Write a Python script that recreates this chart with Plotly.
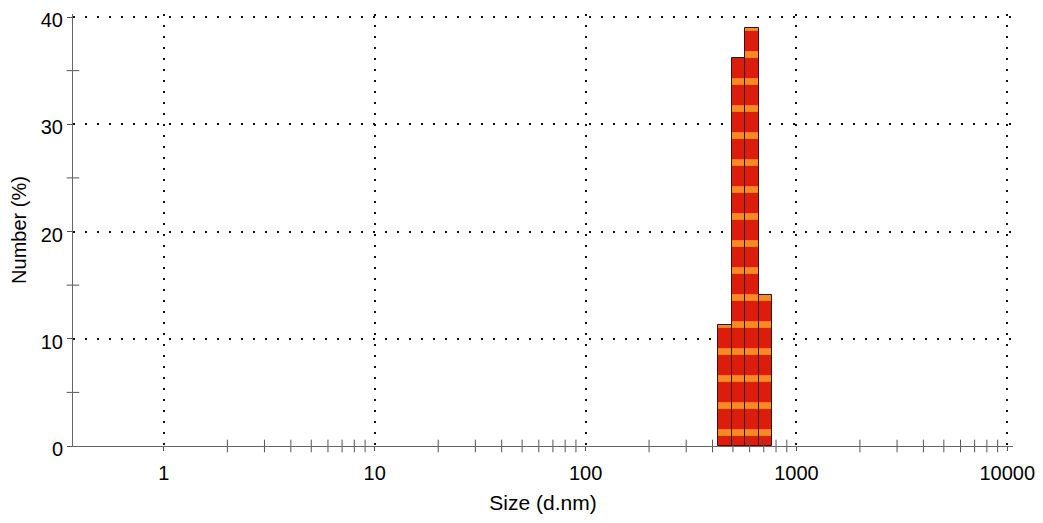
import numpy as np
import plotly.graph_objects as go

# ---- data ----
size_nm = [458.7, 531.2, 615.1, 712.4]        # bin centres (d.nm)
number_pct = [11.3, 36.2, 39.0, 14.1]         # Number (%)
bin_width_dec = 0.0628                        # bin width in decades
x_tick_vals = [1, 10, 100, 1000, 10000]
x_tick_text = ["1", "10", "100", "1000", "10000"]
y_tick_vals = [0, 10, 20, 30, 40]
y_minor_vals = [5, 15, 25, 35]

lx = np.log10(size_nm)
x_lo, x_hi = -0.431, 4.027

# minor x ticks (2..9 of every decade from 1 upward)
minor_x = [np.log10(k * 10 ** d) for d in range(0, 4) for k in range(2, 10)]

fig = go.Figure()
fig.add_trace(go.Bar(
    x=lx, y=number_pct, width=[bin_width_dec] * len(lx),
    marker=dict(color="#dc1c0c",
                line=dict(color="#3a1208", width=1),
                pattern=dict(shape="-", bgcolor="#dc1c0c", fgcolor="#f88a22",
                             size=27, solidity=0.25, fillmode="replace")),
    showlegend=False, hoverinfo="skip"))

# crossing minor ticks on x axis
fig.add_trace(go.Scatter(
    x=minor_x, y=[0] * len(minor_x), mode="markers",
    marker=dict(symbol="line-ns", size=9, line=dict(color="#555", width=1)),
    cliponaxis=False, showlegend=False, hoverinfo="skip"))
# crossing minor ticks on y axis
fig.add_trace(go.Scatter(
    x=[x_lo] * len(y_minor_vals), y=y_minor_vals, mode="markers",
    marker=dict(symbol="line-ew", size=9, line=dict(color="#555", width=1)),
    cliponaxis=False, showlegend=False, hoverinfo="skip"))

font = "Liberation Sans, Arial, sans-serif"
# page body has an 8px default margin, so the figure is offset by 8px
fig.update_layout(
    width=1035, height=507,
    margin=dict(l=65, r=30, t=6, b=69, autoexpand=False),
    paper_bgcolor="white", plot_bgcolor="white",
    bargap=0,
    font=dict(family=font, size=20, color="black"),
    xaxis=dict(range=[x_lo, x_hi], automargin=False,
               tickvals=np.log10(x_tick_vals), ticktext=x_tick_text,
               showline=True, linecolor="#666", linewidth=1,
               ticks="outside", ticklen=4, tickcolor="#555",
               ticklabelstandoff=5, ticklabeloverflow="allow",
               showgrid=True, gridcolor="#111", gridwidth=2,
               griddash="2px,9px", zeroline=False,
               tickfont=dict(size=20),
               title=dict(text="Size (d.nm)", font=dict(size=21), standoff=12)),
    yaxis=dict(range=[0, 40.28], tickvals=y_tick_vals, automargin=False,
               showline=True, linecolor="#666", linewidth=1,
               ticks="outside", ticklen=5, tickcolor="#555",
               ticklabeloverflow="allow", ticklabelshift=3,
               showgrid=True, gridcolor="#111", gridwidth=2,
               griddash="2px,10px", zeroline=False,
               tickfont=dict(size=20),
               title=dict(text="Number (%)", font=dict(size=20), standoff=12)),
)
fig.write_html("out.html")
